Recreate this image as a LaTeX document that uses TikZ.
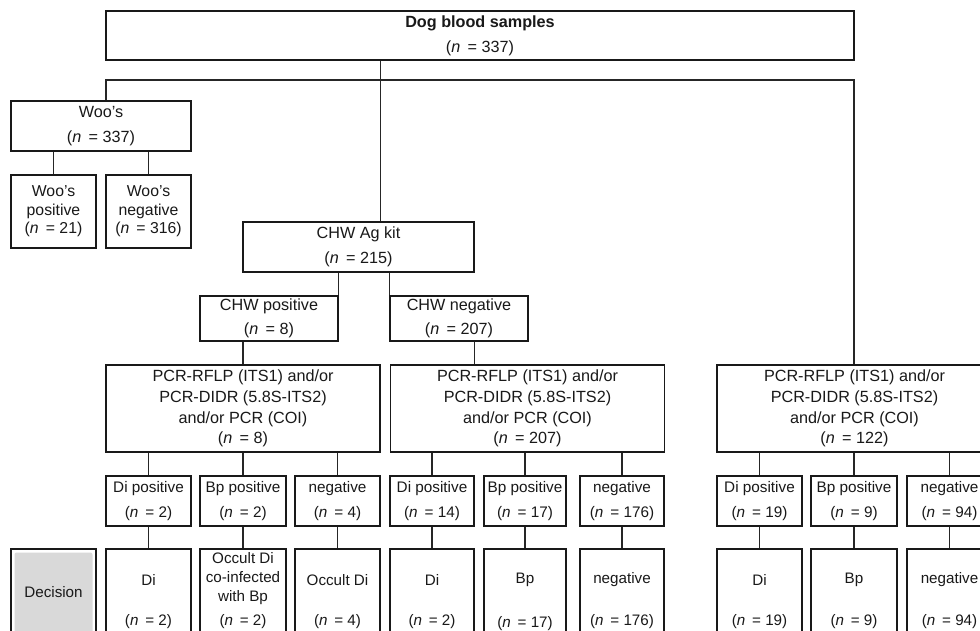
\documentclass[tikz,border=0pt]{standalone}
\usepackage{fontspec}
\setmainfont{Liberation Sans}
\newcommand{\ncount}[1]{(\textit{n}\hspace{.45em}=\hspace{.28em}#1)}
\begin{document}
\begin{tikzpicture}[x=1pt,y=-1pt,
  line width=1.1pt,
  box/.style={draw=black!90, fill=white, inner sep=0pt, align=center,
    text=black!90, font=\fontsize{16.2}{25}\selectfont},
  tall/.style={box, font=\fontsize{15.8}{18.5}\selectfont},
  pcrbox/.style={box, minimum width=274pt, minimum height=87pt,
    font=\fontsize{16.2}{20.6}\selectfont},
  resbox/.style={box, minimum height=50pt, font=\fontsize{15.3}{25}\selectfont},
  outbox/.style={box, minimum height=112pt},
  lbl/.style={inner sep=0pt, align=center, text=black!90,
    font=\fontsize{15.2}{19}\selectfont},
  link/.style={draw=black!85}
]
\useasboundingbox (0,0) rectangle (980,630);
\clip (0,0) rectangle (980,630);

% --- top level ---
\node[box, minimum width=748pt, minimum height=49pt] (top) at (480,35.5)
  {\textbf{Dog blood samples}\\\ncount{337}};

% --- Woo's branch ---
\node[box, minimum width=180pt, minimum height=50pt] (woo) at (101,126)
  {Woo's\\\ncount{337}};
\node[tall, minimum width=85pt, minimum height=73pt] (woopos) at (53.5,211.5)
  {Woo's\\positive\\\ncount{21}};
\node[tall, minimum width=85pt, minimum height=73pt] (wooneg) at (148.5,211.5)
  {Woo's\\negative\\\ncount{316}};

% --- antigen kit branch ---
\node[box, minimum width=231pt, minimum height=50pt] (chw) at (358.5,247)
  {CHW Ag kit\\\ncount{215}};
\node[box, minimum width=138pt, minimum height=45pt, font=\fontsize{16.2}{24}\selectfont]
  (chwpos) at (269,318.5) {CHW positive\\\ncount{8}};
\node[box, minimum width=138pt, minimum height=45pt, font=\fontsize{16.2}{24}\selectfont]
  (chwneg) at (459,318.5) {CHW negative\\\ncount{207}};

% --- molecular tests ---
\node[pcrbox] (pcr1) at (243,408.5)
  {PCR-RFLP (ITS1) and/or\\PCR-DIDR (5.8S-ITS2)\\and/or PCR (COI)\\\ncount{8}};
\node[pcrbox] (pcr2) at (527.5,408.5)
  {PCR-RFLP (ITS1) and/or\\PCR-DIDR (5.8S-ITS2)\\and/or PCR (COI)\\\ncount{207}};
\node[pcrbox, minimum width=275pt] (pcr3) at (854.5,408.5)
  {PCR-RFLP (ITS1) and/or\\PCR-DIDR (5.8S-ITS2)\\and/or PCR (COI)\\\ncount{122}};

% --- test results ---
\node[resbox, minimum width=85pt] (r11) at (148.5,501) {Di positive\\\ncount{2}};
\node[resbox, minimum width=86pt] (r12) at (243,501) {Bp positive\\\ncount{2}};
\node[resbox, minimum width=85pt] (r13) at (337.5,501) {negative\\\ncount{4}};
\node[resbox, minimum width=84pt] (r21) at (432,501) {Di positive\\\ncount{14}};
\node[resbox, minimum width=82pt] (r22) at (525,501) {Bp positive\\\ncount{17}};
\node[resbox, minimum width=84pt] (r23) at (622,501) {negative\\\ncount{176}};
\node[resbox, minimum width=85pt] (r31) at (759.5,501) {Di positive\\\ncount{19}};
\node[resbox, minimum width=86pt] (r32) at (854,501) {Bp positive\\\ncount{9}};
\node[resbox, minimum width=85pt] (r33) at (949.5,501) {negative\\\ncount{94}};

% --- decisions ---
\node[outbox, minimum width=85pt] (dec) at (53.5,605) {};
\fill[black!15, rounded corners=2pt] (14.5,552.5) rectangle (92.5,640);
\node[lbl] (declbl) at (53.5,592) {Decision};

\node[outbox, minimum width=85pt] (d11) at (148.5,605) {};
\node[outbox, minimum width=86pt] (d12) at (243,605) {};
\node[outbox, minimum width=85pt] (d13) at (337.5,605) {};
\node[outbox, minimum width=84pt] (d21) at (432,605) {};
\node[outbox, minimum width=82pt] (d22) at (525,605) {};
\node[outbox, minimum width=84pt] (d23) at (622,605) {};
\node[outbox, minimum width=85pt] (d31) at (759.5,605) {};
\node[outbox, minimum width=86pt] (d32) at (854,605) {};
\node[outbox, minimum width=85pt] (d33) at (949.5,605) {};

\node[lbl] (t11) at (148.5,580) {Di};
\node[lbl] (t12) at (243,579) {Occult Di\\co-infected\\with Bp};
\node[lbl] (t13) at (337.5,580) {Occult Di};
\node[lbl] (t21) at (432,580) {Di};
\node[lbl] (t22) at (525,580) {Bp};
\node[lbl] (t23) at (622,580) {negative};
\node[lbl] (t31) at (759.5,580) {Di};
\node[lbl] (t32) at (854,580) {Bp};
\node[lbl] (t33) at (949.5,580) {negative};

\node[lbl] (n11) at (148.5,622) {\ncount{2}};
\node[lbl] (n12) at (243,622) {\ncount{2}};
\node[lbl] (n13) at (337.5,622) {\ncount{4}};
\node[lbl] (n21) at (432,622) {\ncount{2}};
\node[lbl] (n22) at (525,624) {\ncount{17}};
\node[lbl] (n23) at (622,622) {\ncount{176}};
\node[lbl] (n31) at (759.5,622) {\ncount{19}};
\node[lbl] (n32) at (854,622) {\ncount{9}};
\node[lbl] (n33) at (949.5,622) {\ncount{94}};

% --- connectors ---
\coordinate (busL) at (106,80);
\coordinate (busR) at (854,80);
\draw[link] (top.south -| pcr1.east) -- (chw.north -| pcr1.east);
\draw[link] (woo.north -| busL) -- (busL) -- (busR) -- (pcr3.north -| busR);

\draw[link] (woo.south -| woopos.north) -- (woopos.north);
\draw[link] (woo.south -| wooneg.north) -- (wooneg.north);

\draw[link] (chw.south -| chwpos.east) -- (chwpos.north east);
\draw[link] (chw.south -| chwneg.west) -- (chwneg.north west);
\draw[link] (chwpos.south -| pcr1.north) -- (pcr1.north);
\draw[link] (chwneg.south -| chw.east) -- (pcr2.north -| chw.east);

\foreach \p/\r in {pcr1/r11, pcr1/r12, pcr1/r13,
                   pcr2/r21, pcr2/r22, pcr2/r23,
                   pcr3/r31, pcr3/r32, pcr3/r33}
  \draw[link] (\p.south -| \r.north) -- (\r.north);

\foreach \r/\d in {r11/d11, r12/d12, r13/d13,
                   r21/d21, r22/d22, r23/d23,
                   r31/d31, r32/d32, r33/d33}
  \draw[link] (\r.south) -- (\d.north);
\end{tikzpicture}
\end{document}
